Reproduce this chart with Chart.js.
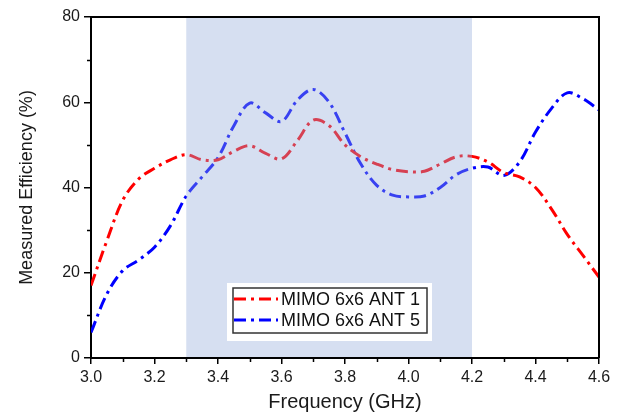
<!DOCTYPE html>
<html>
<head>
<meta charset="utf-8">
<script src="https://cdn.jsdelivr.net/npm/chart.js@4"></script>
<style>
  html, body { margin: 0; padding: 0; background: #fff; }
  #wrap { width: 631px; height: 412px; }
</style>
</head>
<body>
<div id="wrap"><canvas id="effChart" width="631" height="412"></canvas></div>
<script>
// frequency points (GHz)
const freqs = [3.00, 3.05, 3.10, 3.15, 3.20, 3.25, 3.30, 3.35, 3.40, 3.45, 3.50,
  3.55, 3.60, 3.65, 3.70, 3.75, 3.80, 3.85, 3.90, 3.95, 4.00, 4.05, 4.10, 4.15,
  4.20, 4.25, 4.30, 4.35, 4.40, 4.45, 4.50, 4.55, 4.60];

// measured efficiency (%)
const ant1 = [17, 27.5, 37, 42, 44.5, 46.5, 47.7, 46.5, 46.5, 48.5, 49.8,
  48, 46.7, 51, 55.8, 54.5, 50, 47.2, 45.5, 44.2, 43.7, 43.8, 45.5, 47.2,
  47.3, 46, 43.5, 42.5, 40, 35, 29, 24, 19];
const ant5 = [6, 15, 20.5, 23, 26, 31, 38, 42.5, 47, 54.5, 59.8,
  57.5, 55.5, 60.5, 63, 60, 52.8, 45.5, 40.5, 38.2, 37.8, 38, 40, 43,
  44.5, 44.8, 42.8, 46, 53, 58.5, 62.2, 60.8, 58.2];

const seriesNames = ['MIMO 6x6 ANT 1', 'MIMO 6x6 ANT 5'];
const seriesColors = ['#ff0000', '#0000ff'];
const bandStart = 3.3, bandEnd = 4.2;

const dashPattern = [12, 5, 3, 5];
const fontFam = '"Liberation Sans", Arial, sans-serif';

const toPts = vals => freqs.map((f, i) => ({ x: f, y: vals[i] }));

// shaded band + frame + minor ticks + legend
const extrasPlugin = {
  id: 'extras',
  afterDatasetsDraw(chart) {
    const { ctx, chartArea: a, scales } = chart;
    const xs = scales.x, ys = scales.y;
    ctx.save();
    // band drawn over lines (semi-transparent)
    const x0 = xs.getPixelForValue(bandStart), x1 = xs.getPixelForValue(bandEnd);
    ctx.fillStyle = 'rgba(146,170,218,0.38)';
    ctx.fillRect(x0, a.top + 1, x1 - x0, a.bottom - a.top - 2);

    // top and right frame
    ctx.strokeStyle = '#000';
    ctx.lineWidth = 2;
    ctx.beginPath();
    ctx.moveTo(a.left, a.top);
    ctx.lineTo(a.right, a.top);
    ctx.lineTo(a.right, a.bottom);
    ctx.stroke();

    // minor ticks
    ctx.lineWidth = 1.5;
    ctx.beginPath();
    for (let v = 3.1; v < 4.6; v += 0.2) {
      const px = Math.round(xs.getPixelForValue(v)) + 0.5;
      ctx.moveTo(px, a.bottom);
      ctx.lineTo(px, a.bottom + 4);
    }
    for (let v = 10; v < 80; v += 20) {
      const py = Math.round(ys.getPixelForValue(v)) + 0.5;
      ctx.moveTo(a.left, py);
      ctx.lineTo(a.left - 4, py);
    }
    ctx.stroke();

    // legend
    const lx = 227, ly = 283;
    ctx.fillStyle = '#fff';
    ctx.fillRect(lx, ly, 205, 58);
    ctx.strokeStyle = '#333';
    ctx.lineWidth = 1.5;
    ctx.strokeRect(lx + 6, ly + 5, 194, 45);
    ctx.font = '18px ' + fontFam;
    ctx.textBaseline = 'middle';
    seriesNames.forEach((name, i) => {
      const yy = ly + 16 + i * 21;
      ctx.strokeStyle = seriesColors[i];
      ctx.lineWidth = 3;
      ctx.setLineDash(dashPattern);
      ctx.beginPath();
      ctx.moveTo(lx + 7, yy);
      ctx.lineTo(lx + 51, yy);
      ctx.stroke();
      ctx.setLineDash([]);
      ctx.fillStyle = '#111';
      ctx.fillText(name, lx + 54, yy + 1);
    });
    ctx.restore();
  }
};

new Chart(document.getElementById('effChart'), {
  type: 'line',
  data: {
    datasets: [
      {
        label: seriesNames[0],
        data: toPts(ant1),
        borderColor: seriesColors[0],
        borderWidth: 3,
        borderDash: dashPattern,
        pointRadius: 0,
        tension: 0.35,
        fill: false
      },
      {
        label: seriesNames[1],
        data: toPts(ant5),
        borderColor: seriesColors[1],
        borderWidth: 3,
        borderDash: dashPattern,
        pointRadius: 0,
        tension: 0.35,
        fill: false
      }
    ]
  },
  options: {
    responsive: false,
    animation: false,
    layout: { padding: { top: 17, right: 32, left: 0, bottom: 0 } },
    plugins: {
      legend: { display: false },
      tooltip: { enabled: false }
    },
    scales: {
      x: {
        type: 'linear',
        min: 3.0,
        max: 4.6,
        afterFit: s => { s.height = 54; },
        ticks: {
          stepSize: 0.2,
          color: '#1a1a1a',
          font: { family: fontFam, size: 16 },
          padding: 4,
          maxRotation: 0,
          callback: v => v.toFixed(1)
        },
        grid: { drawOnChartArea: false, tickLength: 6, color: '#000', lineWidth: 1.5 },
        border: { color: '#000', width: 2 },
        title: {
          display: true,
          text: 'Frequency (GHz)',
          color: '#1a1a1a',
          font: { family: fontFam, size: 20, lineHeight: 1 },
          padding: { top: 0, bottom: 0 }
        }
      },
      y: {
        min: 0,
        max: 80,
        afterFit: s => { s.width = 91; },
        ticks: {
          stepSize: 20,
          color: '#1a1a1a',
          font: { family: fontFam, size: 16 },
          padding: 4
        },
        grid: { drawOnChartArea: false, tickLength: 7, color: '#000', lineWidth: 1.5 },
        border: { color: '#000', width: 2 },
        title: {
          display: true,
          text: 'Measured Efficiency (%)',
          color: '#1a1a1a',
          font: { family: fontFam, size: 18, lineHeight: 1.2 },
          padding: { top: 16, bottom: 0 }
        }
      }
    }
  },
  plugins: [extrasPlugin]
});
</script>
</body>
</html>
